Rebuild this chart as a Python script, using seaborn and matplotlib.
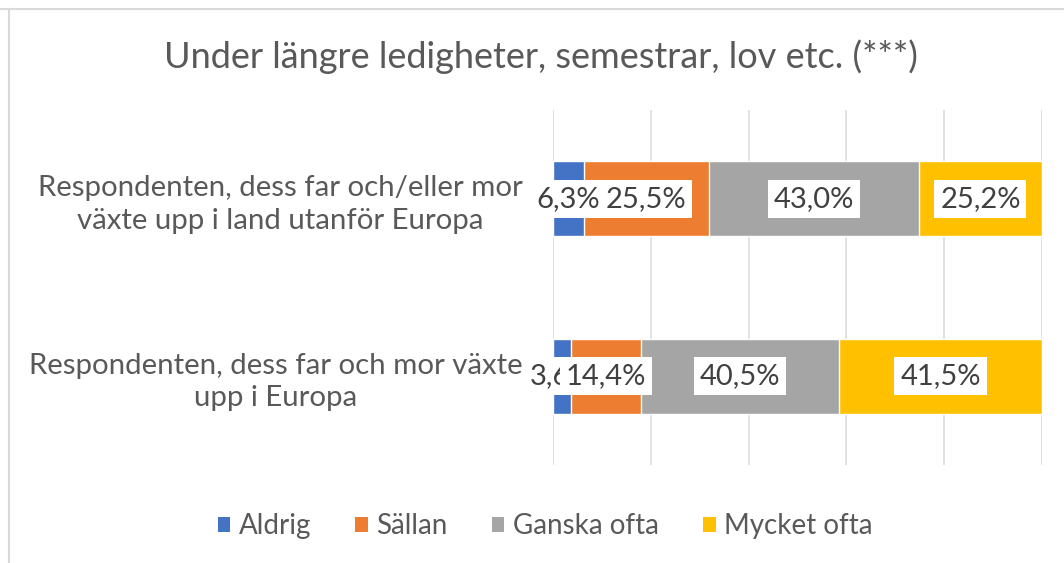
import numpy as np
import pandas as pd
import matplotlib.pyplot as plt
from matplotlib.lines import Line2D
from matplotlib.patches import Patch
import seaborn as sns

# --- data -------------------------------------------------------------
groups = [
    "Respondenten, dess far och/eller mor\nväxte upp i land utanför Europa",
    "Respondenten, dess far och mor växte\nupp i Europa",
]
answers = ["Aldrig", "Sällan", "Ganska ofta", "Mycket ofta"]
aldrig = [6.3, 3.6]
sallan = [25.5, 14.4]
ganska = [43.0, 40.5]
mycket = [25.2, 41.5]
colors = ["#4472C4", "#ED7D31", "#A5A5A5", "#FFC000"]

title = "Under längre ledigheter, semestrar, lov etc. (***)"

sns.set_theme(style="white")
plt.rcParams["font.family"] = ["Lato", "DejaVu Sans"]
text_col = "#595959"

df = pd.DataFrame({"group": groups, "Aldrig": aldrig, "Sällan": sallan,
                   "Ganska ofta": ganska, "Mycket ofta": mycket})
cum = df[answers].cumsum(axis=1)

fig = plt.figure(figsize=(10.64, 5.63), dpi=100)
ax = fig.add_axes([553 / 1064, 1 - 465 / 563, 489 / 1064, 355 / 563])

# stacked bars: draw cumulative totals from the largest down
for ans, col in reversed(list(zip(answers, colors))):
    sns.barplot(x=cum[ans], y=df["group"], color=col, width=0.42,
                saturation=1, orient="h", ax=ax, zorder=2)

ax.set_xlim(0, 100)
ax.set_xticks(np.arange(0, 101, 20))
ax.set_xticklabels([])
ax.tick_params(axis="x", length=0)
ax.grid(axis="x", color="#d9d9d9", linewidth=1.1, zorder=0)
ax.set_axisbelow(True)
for s in ax.spines.values():
    s.set_visible(False)
ax.set_xlabel("")
ax.set_ylabel("")
ax.tick_params(axis="y", length=0, pad=22)
for lbl in ax.get_yticklabels():
    lbl.set_multialignment("center")
    lbl.set_fontsize(21.2)
    lbl.set_color(text_col)
    lbl.set_linespacing(1.3)

# data labels on white boxes
for i in range(len(groups)):
    start = 0.0
    for ans in answers:
        v = df.loc[i, ans]
        ax.text(start + v / 2, i, f"{v:.1f}%".replace(".", ","),
                ha="center", va="center", fontsize=21, color="#404040",
                bbox=dict(boxstyle="square,pad=0.2", fc="white", ec="none"),
                zorder=5, clip_on=False)
        start += v

fig.text(541 / 1064, 1 - 57 / 563, title, ha="center", va="center",
         fontsize=26, color=text_col)

handles = [Patch(facecolor=c, edgecolor="none") for c in colors]
fig.legend(handles, answers, loc="center", bbox_to_anchor=(545 / 1064, 1 - 526 / 563),
           ncol=4, frameon=False, fontsize=20, labelcolor=text_col,
           handlelength=0.45, handleheight=0.45, handletextpad=0.3, columnspacing=1.6)

# chart-area border remnants
fig.add_artist(Line2D([0, 1], [1 - 9 / 563, 1 - 9 / 563], color="#d9d9d9", lw=1.5))
fig.add_artist(Line2D([9 / 1064, 9 / 1064], [0, 1 - 9 / 563], color="#d9d9d9", lw=1.5))

fig.savefig("out.png", dpi=100)
